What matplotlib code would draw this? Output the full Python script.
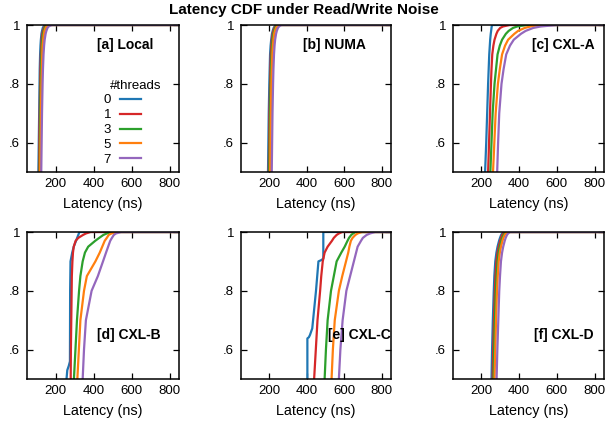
import matplotlib
matplotlib.use('Agg')
import matplotlib.pyplot as plt

plt.rcParams['font.family'] = ['Liberation Sans', 'DejaVu Sans']

# ---------------- data ----------------
threads = ['0', '1', '3', '5', '7']
colors = ['#1f77b4', '#d62728', '#2ca02c', '#ff7f0e', '#9467bd']
x_ticks = [200, 400, 600, 800]
y_ticks = [0.6, 0.8, 1.0]
y_ticklabels = ['.6', '.8', '1']
title = 'Latency CDF under Read/Write Noise'
panel_names = ['[a] Local', '[b] NUMA', '[c] CXL-A', '[d] CXL-B', '[e] CXL-C', '[f] CXL-D']

# common CDF levels at which latencies (ns) were read
levels = [0.5, 0.6, 0.7, 0.8, 0.85, 0.9, 0.93, 0.95, 0.97, 0.98, 0.99, 0.995, 1.0]

local_t0 = [110, 112, 114, 116, 117, 119, 121, 123, 126, 129, 133, 137, 145]
local_t1 = [113, 115, 117, 119, 121, 123, 125, 127, 131, 134, 139, 143, 152]
local_t3 = [116, 118, 120, 122, 124, 126, 128, 131, 135, 138, 143, 148, 158]
local_t5 = [119, 121, 123, 126, 128, 130, 132, 135, 139, 142, 148, 153, 165]
local_t7 = [125, 127, 129, 132, 134, 137, 140, 143, 148, 152, 158, 164, 180]

numa_t0 = [194, 196, 198, 201, 203, 205, 208, 211, 215, 219, 224, 229, 238]
numa_t1 = [198, 200, 202, 205, 207, 209, 212, 215, 219, 223, 228, 233, 242]
numa_t3 = [201, 203, 205, 208, 210, 213, 216, 219, 223, 227, 232, 237, 247]
numa_t5 = [205, 207, 209, 212, 214, 217, 220, 223, 227, 231, 237, 242, 253]
numa_t7 = [214, 216, 218, 221, 223, 226, 229, 232, 237, 241, 247, 253, 265]

cxla_t0 = [220, 226, 231, 236, 239, 242, 245, 247, 250, 252, 254, 255, 258]
cxla_t1 = [236, 241, 246, 251, 254, 258, 264, 270, 280, 287, 300, 315, 350]
cxla_t3 = [248, 254, 260, 270, 278, 286, 298, 310, 330, 345, 368, 390, 440]
cxla_t5 = [262, 269, 276, 288, 298, 310, 326, 342, 375, 395, 430, 460, 505]
cxla_t7 = [284, 289, 295, 307, 318, 332, 352, 372, 410, 435, 475, 515, 600]

cxlb_t0_levels = [0.5, 0.53, 0.545, 0.56, 0.8, 0.9, 0.93, 0.95, 0.97, 0.99, 1.0]
cxlb_t0 = [258, 262, 270, 276, 277, 279, 288, 296, 308, 320, 326]
cxlb_t1 = [280, 281, 283, 285, 286, 289, 292, 296, 306, 320, 345, 360, 385]
cxlb_t3 = [297, 305, 313, 324, 331, 343, 355, 372, 409, 430, 452, 470, 492]
cxlb_t5 = [315, 323, 331, 350, 365, 410, 433, 446, 459, 470, 480, 495, 518]
cxlb_t7 = [343, 350, 360, 390, 423, 450, 466, 477, 488, 497, 507, 518, 545]

cxlc_t0_levels = [0.5, 0.638, 0.642, 0.65, 0.672, 0.8, 0.9, 0.905, 0.91, 1.0]
cxlc_t0 = [404, 404, 412, 418, 430, 450, 463, 480, 489, 489]
cxlc_t1 = [440, 449, 458, 472, 478, 486, 496, 512, 535, 545, 560, 572, 590]
cxlc_t3 = [496, 503, 512, 530, 545, 560, 585, 603, 618, 626, 638, 648, 660]
cxlc_t5 = [533, 540, 550, 572, 590, 610, 622, 628, 636, 645, 660, 672, 695]
cxlc_t7 = [572, 580, 592, 612, 632, 652, 664, 672, 690, 700, 720, 738, 765]

cxld_t0 = [254, 257, 261, 266, 269, 274, 280, 286, 294, 299, 305, 310, 318]
cxld_t1 = [260, 263, 267, 272, 275, 280, 286, 292, 300, 305, 311, 316, 325]
cxld_t3 = [265, 268, 272, 277, 281, 286, 292, 298, 306, 311, 318, 323, 332]
cxld_t5 = [270, 274, 278, 283, 287, 292, 298, 304, 312, 317, 324, 330, 340]
cxld_t7 = [281, 285, 290, 295, 299, 304, 310, 316, 324, 329, 336, 342, 352]

tail_latency = 1000  # CDF stays at 1 beyond the last point

panels = [
    [(levels, local_t0), (levels, local_t1), (levels, local_t3), (levels, local_t5), (levels, local_t7)],
    [(levels, numa_t0), (levels, numa_t1), (levels, numa_t3), (levels, numa_t5), (levels, numa_t7)],
    [(levels, cxla_t0), (levels, cxla_t1), (levels, cxla_t3), (levels, cxla_t5), (levels, cxla_t7)],
    [(cxlb_t0_levels, cxlb_t0), (levels, cxlb_t1), (levels, cxlb_t3), (levels, cxlb_t5), (levels, cxlb_t7)],
    [(cxlc_t0_levels, cxlc_t0), (levels, cxlc_t1), (levels, cxlc_t3), (levels, cxlc_t5), (levels, cxlc_t7)],
    [(levels, cxld_t0), (levels, cxld_t1), (levels, cxld_t3), (levels, cxld_t5), (levels, cxld_t7)],
]

# ---------------- layout ----------------
W, H = 608, 423
fig = plt.figure(figsize=(W / 100, H / 100), dpi=100)
col_left = [27, 241, 453]
col_width = [152, 150, 151]
row_top = [25, 232]
ax_h = 147
label_pos = [(0.83, 0.864), (0.83, 0.864), (0.935, 0.864),
             (0.88, 0.30), (0.995, 0.30), (0.93, 0.30)]

fs = 9.5
for i, series in enumerate(panels):
    r, c = divmod(i, 3)
    ax = fig.add_axes([col_left[c] / W, (H - row_top[r] - ax_h) / H,
                       col_width[c] / W, ax_h / H])
    for (lv, lat), col, th in zip(series, colors, threads):
        ax.plot(list(lat) + [tail_latency], list(lv) + [1.0], color=col,
                lw=1.6, label=th, solid_joinstyle='round')
    ax.set_xlim(50, 850)
    ax.set_ylim(0.5, 1.0)
    ax.set_xticks(x_ticks)
    ax.set_yticks(y_ticks)
    ax.set_yticklabels(y_ticklabels)
    ax.tick_params(direction='in', top=True, right=True, length=4, width=0.9,
                   labelsize=fs, color='black')
    ax.tick_params(axis='x', pad=4)
    ax.tick_params(axis='y', pad=5)
    for sp in ax.spines.values():
        sp.set_linewidth(1.1)
    ax.set_xlabel('Latency (ns)', fontsize=10.4, labelpad=5.5)
    lx, ly = label_pos[i]
    ax.text(lx, ly, panel_names[i], transform=ax.transAxes, ha='right',
            va='center', fontsize=10, fontweight='bold')
    if i == 0:
        ax.text(0.717, 0.585, '#threads', transform=ax.transAxes,
                ha='center', va='center', fontsize=fs)
        ax.legend(loc='center', bbox_to_anchor=(0.628, 0.285), markerfirst=False,
                  frameon=False, fontsize=fs, handlelength=1.6,
                  handletextpad=0.7, labelspacing=0.2, borderpad=0)

fig.text(0.5, 1 - 10 / H, title, ha='center', va='center',
         fontsize=11, fontweight='bold')

fig.savefig('out.png', dpi=100)
